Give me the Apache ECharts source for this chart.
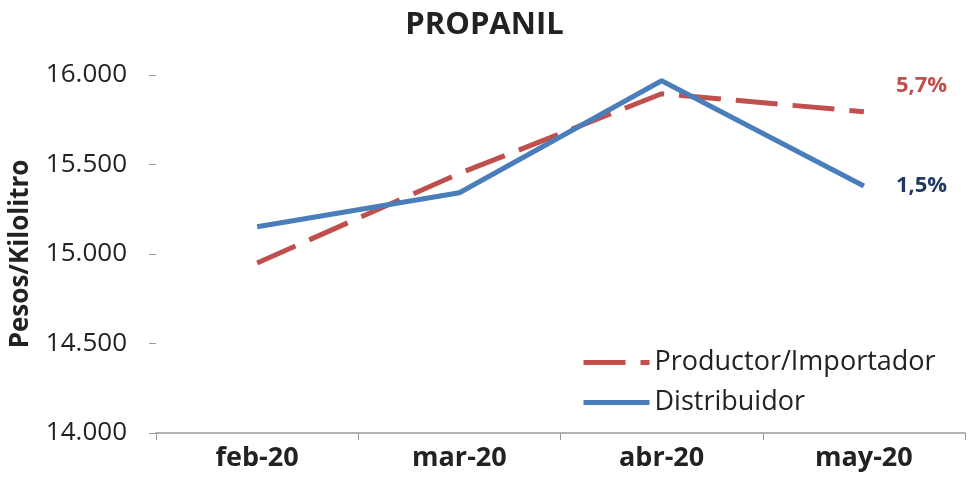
<!DOCTYPE html>
<html>
<head>
<meta charset="utf-8">
<script src="https://cdn.jsdelivr.net/npm/echarts@6/dist/echarts.min.js"></script>
<style>
  html, body { margin: 0; padding: 0; background: #fff; }
  #chart { width: 969px; height: 477px; }
</style>
</head>
<body>
<div id="chart"></div>
<script>
const months = ['feb-20', 'mar-20', 'abr-20', 'may-20'];
const productor = [14950, 15450, 15895, 15795];
const distribuidor = [15152, 15342, 15968, 15380];
const variations = ['5,7%', '1,5%'];
const seriesNames = ['Productor/Importador', 'Distribuidor'];

const font = '"Open Sans", Lato, sans-serif';
const red = '#c0504d';
const blue = '#4a7ebb';

const chart = echarts.init(document.getElementById('chart'));

chart.setOption({
  animation: false,
  title: {
    text: 'PROPANIL',
    left: 'center',
    top: 5,
    textStyle: { fontFamily: font, fontSize: 31, fontWeight: 'bold', color: '#222' },
  },
  grid: { left: 153, right: 4, top: 75, bottom: 44 },
  legend: {
    orient: 'vertical',
    left: 576,
    top: 344,
    itemWidth: 66,
    itemHeight: 14,
    itemGap: 13,
    itemStyle: { opacity: 0 },
    lineStyle: { width: 5 },
    textStyle: { fontFamily: font, fontSize: 27, color: '#222' },
    data: seriesNames,
  },
  xAxis: {
    type: 'category',
    data: months,
    boundaryGap: true,
    axisLine: { lineStyle: { color: '#999', width: 1.5 } },
    axisTick: { show: true, length: 7, lineStyle: { color: '#999' } },
    axisLabel: { color: '#222', fontFamily: font, fontSize: 27, fontWeight: 'bold', margin: 12 },
  },
  yAxis: {
    type: 'value',
    min: 14000,
    max: 16000,
    interval: 500,
    name: 'Pesos/Kilolitro',
    nameLocation: 'middle',
    nameGap: 122,
    nameTextStyle: { fontFamily: font, fontSize: 26, fontWeight: 'bold', color: '#222' },
    axisLine: { show: false },
    axisTick: { show: true, length: 7, lineStyle: { color: '#999' } },
    splitLine: { show: false },
    axisLabel: {
      color: '#222',
      fontFamily: font,
      fontSize: 26,
      margin: 29,
      formatter: (v) => v.toLocaleString('de-DE'),
    },
  },
  series: [
    {
      name: seriesNames[0],
      type: 'line',
      data: productor,
      symbol: 'none',
      color: red,
      lineStyle: { color: red, width: 5, type: [42, 15] },
      endLabel: {
        show: true,
        formatter: () => variations[0],
        offset: [24, -26],
        color: red,
        fontFamily: font,
        fontSize: 22,
        fontWeight: 'bold',
      },
    },
    {
      name: seriesNames[1],
      type: 'line',
      data: distribuidor,
      symbol: 'none',
      color: blue,
      lineStyle: { color: blue, width: 5 },
      endLabel: {
        show: true,
        formatter: () => variations[1],
        offset: [24, 0],
        color: '#1f3864',
        fontFamily: font,
        fontSize: 22,
        fontWeight: 'bold',
      },
    },
  ],
});
</script>
</body>
</html>
